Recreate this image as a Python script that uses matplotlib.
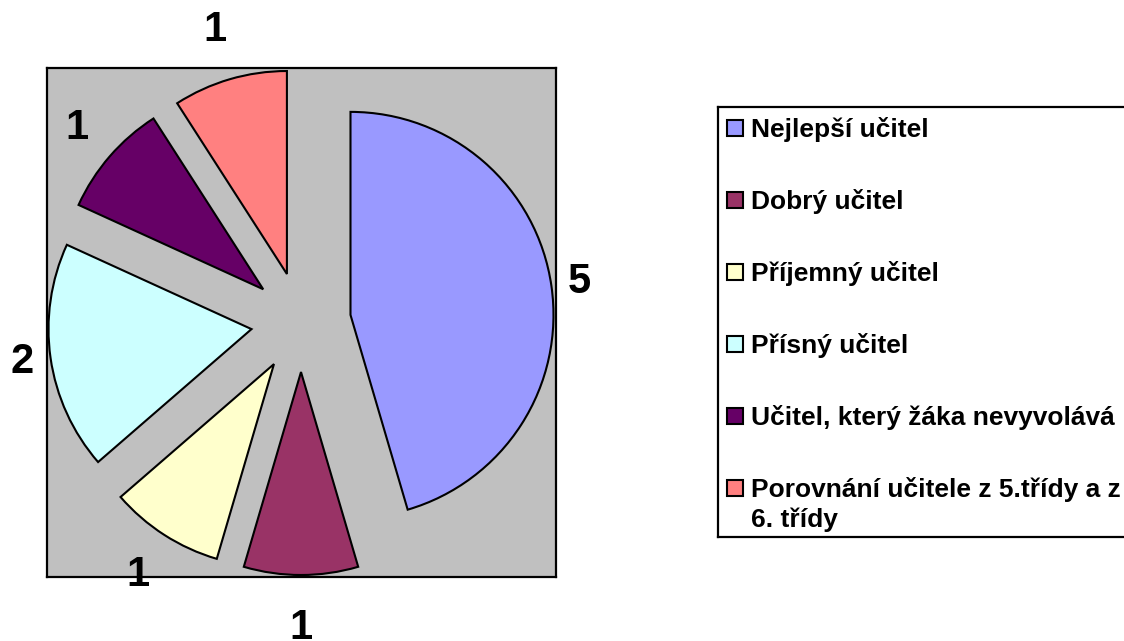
import matplotlib
matplotlib.use("Agg")
import matplotlib.pyplot as plt
from matplotlib.patches import Rectangle
import numpy as np

plt.rcParams['font.family'] = ['Liberation Sans', 'DejaVu Sans']
plt.rcParams['font.weight'] = 'bold'

# data
categories = ["Nejlepší učitel", "Dobrý učitel", "Příjemný učitel", "Přísný učitel",
              "Učitel, který žáka nevyvolává", "Porovnání učitele z 5.třídy a z\n6. třídy"]
values = [5, 1, 1, 2, 1, 1]
colors = ["#9999FF", "#993366", "#FFFFCC", "#CCFFFF", "#660066", "#FF8080"]

W, H = 1124, 641
fig = plt.figure(figsize=(W / 100, H / 100), dpi=100)

# plot area (pixel based coordinates, y up)
box_l, box_t, box_r, box_b = 47, 68, 556, 577
ax = fig.add_axes([box_l / W, (H - box_b) / H, (box_r - box_l) / W, (box_b - box_t) / H])
ax.set_facecolor("#C0C0C0")

radius = 203
explode = [50] * len(values)   # pie explode is in data units
wedges, _ = ax.pie(values, colors=colors, explode=explode, radius=radius,
                   center=(301, H - 322), startangle=90, counterclock=False,
                   frame=True, wedgeprops=dict(edgecolor="black", linewidth=1.5))
ax.set_xlim(box_l, box_r)
ax.set_ylim(H - box_b, H - box_t)
ax.set_aspect("auto")
ax.set_xticks([])
ax.set_yticks([])
for s in ax.spines.values():
    s.set_linewidth(1.6)
    s.set_color("black")

# data labels outside each slice
for w, v in zip(wedges, values):
    ang = np.deg2rad((w.theta1 + w.theta2) / 2)
    k = 1.12 + 0.14 * abs(np.sin(ang))
    x = w.center[0] + k * w.r * np.cos(ang)
    y = w.center[1] + k * w.r * np.sin(ang)
    ax.text(x, y, str(v), ha="center", va="center", fontsize=30, fontweight="bold")

# legend box
lx0, ly0, lx1, ly1 = 718, 107, 1135, 537
lax = fig.add_axes([lx0 / W, (H - ly1) / H, (lx1 - lx0) / W, (ly1 - ly0) / H])
lax.set_xlim(lx0, lx1)
lax.set_ylim(ly1, ly0)
lax.set_xticks([])
lax.set_yticks([])
lax.patch.set_alpha(0)
for s in lax.spines.values():
    s.set_linewidth(1.6)

for i, (cat, c) in enumerate(zip(categories, colors)):
    yc = 128 + 72 * i
    lax.add_patch(Rectangle((727, yc - 8), 16, 16, facecolor=c, edgecolor="black", linewidth=1.5))
    for j, line in enumerate(cat.split("\n")):
        lax.text(751, yc + 9.5 + 30 * j, line, ha="left", va="baseline",
                 fontsize=19, fontweight="bold")

fig.savefig("out.png", dpi=100)
